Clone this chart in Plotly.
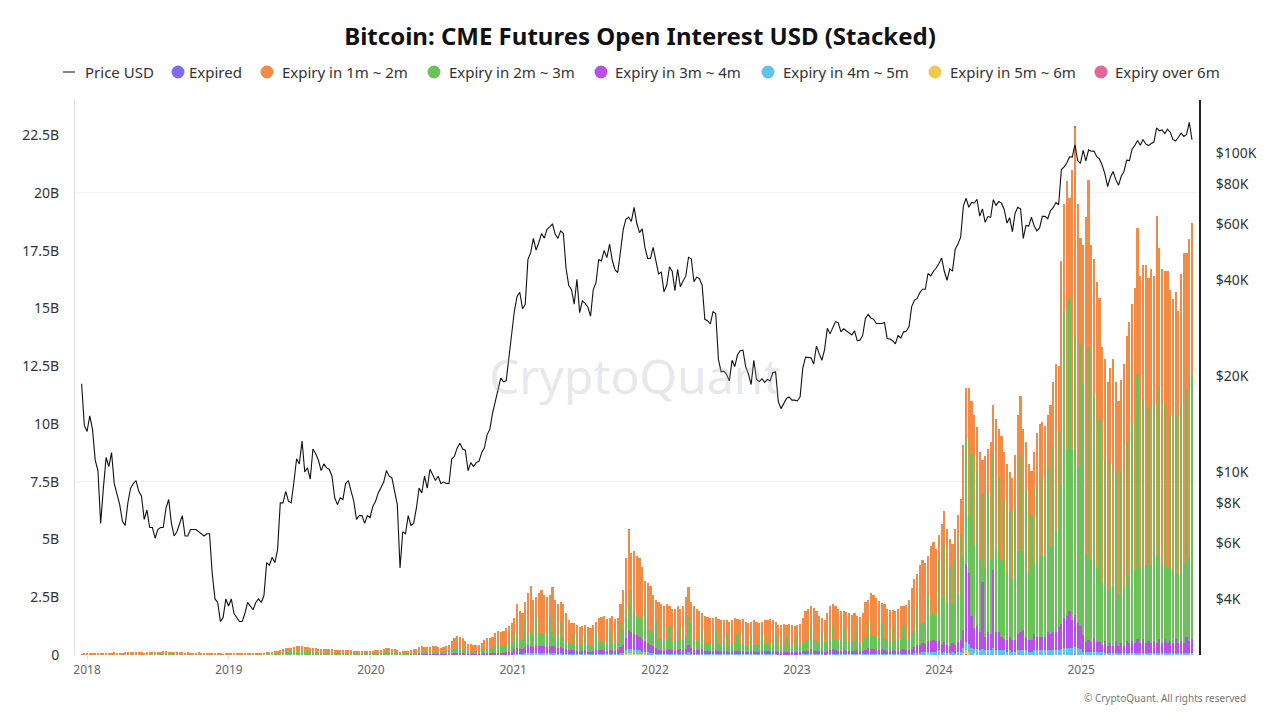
import pandas as pd
import plotly.graph_objects as go

# ---------------- DATA (weekly samples, Mondays from 2017-12-18) ----------------
start_date = "2017-12-18"

# BTC price in thousands USD
price_k = [
    18.9, 14.0,
    # 2018
    13.4, 15.0, 13.6, 10.9, 10.1,
    6.9, 8.9, 11.1, 10.4,
    11.5, 9.2, 8.6, 7.9,
    7.0, 6.8, 8.0, 8.9, 9.2,
    9.4, 8.7, 8.4, 7.1,
    7.6, 6.7, 6.7, 6.2,
    6.6, 6.7, 6.7, 7.7, 8.2,
    6.9, 6.3, 6.5, 6.9,
    7.3, 6.3, 6.3, 6.6,
    6.6, 6.6, 6.5, 6.4, 6.3,
    6.4, 6.4, 4.8, 4.0,
    3.9, 3.4, 3.5, 4.0, 3.8,
    # 2019
    4.0, 3.6, 3.5, 3.4,
    3.4, 3.6, 3.9, 3.8,
    3.7, 3.9, 4.0, 3.9,
    4.1, 5.2, 5.1, 5.4, 5.2,
    5.7, 8.0, 8.0, 8.7,
    8.1, 8.0, 9.3, 11.0,
    10.6, 12.5, 10.0, 10.3, 9.5,
    11.8, 11.4, 10.9, 10.1,
    10.6, 10.3, 10.2, 9.7, 8.3,
    7.9, 8.3, 8.2, 9.2,
    9.4, 8.8, 8.1, 7.1,
    7.3, 7.3, 6.9, 7.3, 7.2,
    # 2020
    7.8, 8.1, 8.6, 8.9,
    9.3, 10.1, 9.7, 9.6,
    8.8, 7.9, 5.0, 6.5, 6.4,
    7.3, 6.8, 6.9, 7.7,
    8.9, 8.6, 9.7, 8.9,
    10.2, 9.8, 9.4, 9.7, 9.2,
    9.3, 9.2, 9.2, 11.0,
    11.2, 11.9, 12.3, 11.8, 11.7,
    10.1, 10.7, 10.4, 10.7,
    10.8, 11.5, 11.9, 13.1,
    13.6, 15.3, 16.7, 18.4, 19.7,
    19.2, 19.3, 22.8, 27.0,
    # 2021
    31.9, 35.5, 36.6, 32.5,
    33.5, 46.4, 48.7, 54.0,
    49.6, 52.4, 55.9, 54.1, 57.6,
    58.7, 60.0, 55.7, 54.0,
    57.0, 56.0, 43.5, 38.4, 37.3,
    33.6, 40.2, 31.6, 34.4,
    33.8, 32.9, 30.8, 37.3,
    39.2, 46.3, 45.9, 49.5, 47.0,
    51.8, 46.1, 43.0, 42.2,
    49.1, 57.5, 62.0, 63.0,
    61.0, 67.5, 60.1, 56.3, 57.8,
    50.5, 46.7, 46.7, 50.6,
    # 2022
    46.4, 41.8, 42.3, 36.7, 38.5,
    44.0, 42.6, 37.0, 43.2,
    38.1, 39.7, 41.1, 47.1,
    46.6, 39.5, 40.8, 40.4,
    38.5, 30.1, 29.8, 29.1, 31.8,
    31.4, 22.5, 20.6, 20.7,
    20.2, 19.3, 22.4, 21.4,
    23.3, 24.0, 24.1, 21.4, 20.3,
    18.8, 22.4, 19.5, 19.2,
    19.6, 19.1, 19.5, 19.3, 20.5,
    20.6, 16.6, 15.8, 16.4,
    17.0, 17.2, 16.8, 16.8,
    # 2023
    16.7, 17.2, 21.2, 22.9, 22.8,
    22.8, 21.8, 24.8, 23.5,
    22.4, 24.2, 28.2, 27.1,
    28.2, 29.6, 29.4, 27.5,
    28.1, 27.7, 27.2, 26.9, 27.7,
    25.8, 25.9, 26.8, 30.3,
    31.2, 30.4, 30.1, 29.2, 29.2,
    29.2, 29.4, 26.2, 26.1,
    25.8, 25.2, 26.8, 26.3,
    27.5, 27.6, 28.5, 33.0, 34.5,
    35.0, 36.5, 37.4, 37.4,
    41.9, 41.2, 42.6, 43.6,
    # 2024
    45.0, 46.9, 42.5, 39.9, 43.3,
    42.7, 49.9, 51.8, 54.5,
    68.3, 72.1, 67.6, 70.0,
    69.7, 71.6, 63.4, 66.8, 60.6,
    63.2, 62.9, 71.4, 68.5,
    70.5, 69.6, 66.5, 60.3,
    62.7, 56.7, 64.8, 67.6, 66.8,
    54.0, 59.3, 59.0, 62.9,
    59.1, 57.0, 58.2, 63.3, 63.3,
    62.2, 66.0, 67.4, 69.9,
    68.8, 88.7, 90.5, 93.0,
    97.3, 97.1, 106.1, 94.7, 92.8,
    # 2025
    102.0, 94.5, 102.3, 101.3,
    101.4, 97.4, 95.8, 91.5,
    86.0, 78.5, 84.0, 87.5, 82.5,
    79.2, 84.5, 87.5, 95.0,
    94.7, 102.8, 105.6, 109.4,
    105.7, 110.2, 106.8, 105.5, 107.1,
    108.2, 119.8, 117.4, 118.1,
    115.0, 118.7, 116.2, 110.1,
    109.2, 112.0, 115.4, 112.7, 114.4,
    124.7, 110.0,
]

# Open interest in billions USD
oi_1m_2m = [
    0.02, 0.04,
    # 2018
    0.05, 0.06, 0.05, 0.06, 0.05,
    0.05, 0.06, 0.06, 0.05,
    0.06, 0.07, 0.06, 0.05,
    0.06, 0.07, 0.08, 0.08, 0.07,
    0.08, 0.07, 0.07, 0.06,
    0.07, 0.08, 0.09, 0.08,
    0.08, 0.09, 0.10, 0.11, 0.10,
    0.09, 0.08, 0.08, 0.07,
    0.07, 0.06, 0.07, 0.06,
    0.06, 0.06, 0.07, 0.06, 0.05,
    0.06, 0.06, 0.05, 0.04,
    0.04, 0.04, 0.03, 0.04, 0.04,
    # 2019
    0.04, 0.04, 0.04, 0.03,
    0.04, 0.04, 0.05, 0.05,
    0.05, 0.05, 0.06, 0.06,
    0.06, 0.08, 0.09, 0.09, 0.10,
    0.11, 0.15, 0.17, 0.19,
    0.18, 0.20, 0.22, 0.26,
    0.25, 0.24, 0.22, 0.21, 0.20,
    0.20, 0.19, 0.18, 0.17,
    0.17, 0.18, 0.17, 0.16, 0.14,
    0.13, 0.14, 0.13, 0.14,
    0.14, 0.13, 0.12, 0.11,
    0.11, 0.12, 0.11, 0.12, 0.11,
    # 2020
    0.11, 0.12, 0.14, 0.13,
    0.16, 0.18, 0.19, 0.17,
    0.15, 0.12, 0.09, 0.10, 0.11,
    0.12, 0.13, 0.15, 0.17,
    0.21, 0.24, 0.22, 0.20,
    0.22, 0.25, 0.24, 0.22, 0.19,
    0.22, 0.25, 0.28, 0.38,
    0.48, 0.52, 0.50, 0.45, 0.36,
    0.29, 0.28, 0.26, 0.27,
    0.27, 0.33, 0.41, 0.47,
    0.46, 0.50, 0.60, 0.66, 0.62,
    0.66, 0.72, 0.78, 0.88,
    # 2021
    0.6, 1.45, 1.25, 1.15,
    0.8, 1.75, 2.0, 1.55,
    0.9, 1.75, 1.85, 1.7, 1.65,
    0.95, 1.95, 1.6, 1.45,
    0.85, 1.45, 1.2, 1.0, 0.9,
    0.5, 0.85, 0.8, 0.82,
    0.45, 0.8, 0.76, 0.86,
    0.5, 1.05, 1.1, 1.12, 1.02,
    0.55, 1.12, 1.02, 1.05,
    0.8, 1.75, 2.6, 3.3,
    1.6, 2.7, 2.6, 2.55, 2.3,
    1.2, 1.95, 1.9, 1.65,
    # 2022
    0.95, 1.6, 1.52, 1.45, 1.52,
    0.85, 1.38, 1.38, 1.45,
    0.8, 1.45, 1.7, 1.3,
    0.9, 1.45, 1.38, 1.3,
    0.7, 1.17, 1.13, 1.1, 1.1,
    0.65, 1.07, 1.03, 1.03,
    0.6, 1.0, 1.03, 1.1,
    0.62, 1.03, 1.07, 1.0, 0.96,
    0.58, 1.03, 1.0, 0.96,
    0.58, 1.03, 1.03, 1.07, 1.03,
    0.58, 0.9, 0.9, 0.93,
    0.52, 0.93, 0.9, 0.86,
    # 2023
    0.52, 0.93, 1.1, 1.3, 1.35,
    0.85, 1.4, 1.3, 1.16,
    0.64, 1.02, 1.22, 1.43,
    0.88, 1.43, 1.36, 1.3,
    0.76, 1.26, 1.22, 1.19, 1.22,
    0.68, 1.12, 1.22, 1.56,
    0.96, 1.83, 1.77, 1.67, 1.6,
    0.9, 1.5, 1.36, 1.33,
    0.78, 1.3, 1.36, 1.43,
    0.84, 1.46, 1.63, 1.97, 2.2,
    1.4, 2.55, 2.65, 2.6,
    1.7, 3.0, 3.1, 2.9,
    # 2024
    1.1, 3.2, 1.5, 3.1, 1.2,
    2.6, 1.3, 3.4, 1.5,
    4.8, 2.2, 5.5, 2.3,
    5.6, 1.9, 4.7, 1.5, 4.8,
    1.9, 5.1, 2.1, 5.6,
    2.1, 5.4, 2.1, 4.7,
    1.7, 4.3, 2.2, 5.9, 2.6,
    5.3, 2.1, 4.7, 1.9,
    4.8, 2.3, 5.7, 2.4, 5.6,
    2.3, 6.1, 2.8, 7.2,
    2.8, 9.7, 4.6, 11.6,
    4.4, 12.1, 9.1, 11.3, 4.6,
    # 2025
    6.0, 14.6, 7.2, 13.6,
    5.9, 12.4, 5.3, 10.2,
    4.3, 9.0, 4.1, 9.8, 3.9,
    8.4, 4.0, 9.6, 4.6,
    11.0, 5.2, 12.2, 6.4,
    12.6, 5.8, 13.0, 5.6, 12.8,
    5.6, 14.7, 6.0, 12.8,
    5.7, 12.8, 5.4, 11.8,
    5.3, 11.4, 5.7, 13.4, 5.9,
    13.8, 6.5,
]

oi_2m_3m = [
    0.01, 0.02,
    # 2018
    0.02, 0.03, 0.02, 0.03, 0.02,
    0.02, 0.03, 0.03, 0.02,
    0.03, 0.03, 0.02, 0.02,
    0.03, 0.03, 0.04, 0.03, 0.03,
    0.04, 0.03, 0.03, 0.03,
    0.03, 0.04, 0.04, 0.03,
    0.04, 0.04, 0.05, 0.05, 0.04,
    0.04, 0.04, 0.03, 0.03,
    0.03, 0.03, 0.03, 0.03,
    0.03, 0.03, 0.03, 0.02, 0.02,
    0.03, 0.02, 0.02, 0.02,
    0.02, 0.02, 0.01, 0.02, 0.02,
    # 2019
    0.02, 0.02, 0.02, 0.02,
    0.02, 0.02, 0.02, 0.02,
    0.02, 0.03, 0.03, 0.03,
    0.03, 0.04, 0.04, 0.05, 0.05,
    0.05, 0.06, 0.08, 0.09,
    0.09, 0.10, 0.11, 0.12,
    0.12, 0.11, 0.10, 0.10, 0.09,
    0.09, 0.09, 0.08, 0.08,
    0.08, 0.08, 0.08, 0.07, 0.07,
    0.06, 0.06, 0.06, 0.07,
    0.07, 0.06, 0.06, 0.05,
    0.05, 0.05, 0.05, 0.06, 0.05,
    # 2020
    0.05, 0.06, 0.06, 0.06,
    0.07, 0.08, 0.08, 0.07,
    0.07, 0.06, 0.05, 0.05, 0.05,
    0.05, 0.06, 0.07, 0.08,
    0.09, 0.11, 0.11, 0.10,
    0.11, 0.12, 0.11, 0.10, 0.10,
    0.10, 0.11, 0.13, 0.17,
    0.20, 0.22, 0.22, 0.20, 0.18,
    0.14, 0.13, 0.12, 0.13,
    0.12, 0.14, 0.17, 0.20,
    0.20, 0.22, 0.26, 0.29, 0.28,
    0.29, 0.32, 0.35, 0.38,
    # 2021
    0.75, 0.45, 0.4, 0.4,
    1.15, 0.55, 0.6, 0.5,
    1.2, 0.55, 0.55, 0.5, 0.5,
    1.25, 0.6, 0.45, 0.45,
    1.1, 0.45, 0.36, 0.3, 0.3,
    0.7, 0.28, 0.25, 0.27,
    0.65, 0.25, 0.24, 0.28,
    0.75, 0.35, 0.35, 0.37, 0.34,
    0.82, 0.37, 0.34, 0.35,
    1.05, 0.6, 0.85, 1.05,
    1.8, 0.9, 0.85, 0.85, 0.8,
    1.4, 0.65, 0.65, 0.58,
    # 2022
    1.15, 0.47, 0.45, 0.44, 0.46,
    1.0, 0.42, 0.42, 0.44,
    0.95, 0.44, 0.52, 1.2,
    1.1, 0.44, 0.42, 0.4,
    0.86, 0.36, 0.35, 0.34, 0.34,
    0.8, 0.32, 0.31, 0.31,
    0.72, 0.3, 0.31, 0.34,
    0.74, 0.31, 0.32, 0.3, 0.29,
    0.7, 0.31, 0.3, 0.29,
    0.7, 0.31, 0.31, 0.32, 0.31,
    0.7, 0.27, 0.27, 0.28,
    0.63, 0.28, 0.27, 0.26,
    # 2023
    0.63, 0.28, 0.34, 0.42, 0.46,
    1.0, 0.46, 0.42, 0.38,
    0.77, 0.34, 0.41, 0.47,
    1.05, 0.47, 0.45, 0.42,
    0.91, 0.41, 0.41, 0.39, 0.41,
    0.82, 0.37, 0.41, 0.52,
    1.15, 0.61, 0.58, 0.55, 0.53,
    1.08, 0.49, 0.45, 0.44,
    0.94, 0.42, 0.45, 0.47,
    1.01, 0.48, 0.54, 0.65, 0.75,
    1.65, 0.9, 0.95, 0.92,
    2.0, 1.1, 1.15, 1.1,
    # 2024
    3.5, 2.0, 4.2, 1.9, 3.4,
    1.7, 3.7, 2.1, 4.6,
    3.2, 5.4, 2.5, 7.0,
    3.6, 6.7, 3.1, 3.8, 3.0,
    6.0, 3.2, 5.0, 3.6,
    6.7, 3.3, 6.0, 2.9,
    5.4, 2.7, 5.8, 3.6, 7.6,
    3.4, 6.3, 2.9, 5.4,
    3.1, 6.5, 3.5, 6.9, 3.5,
    7.1, 3.8, 8.0, 4.4,
    8.5, 6.0, 13.3, 7.2,
    13.5, 7.4, 12.0, 6.8, 12.2,
    # 2025
    10.9, 3.8, 12.7, 3.6,
    10.5, 3.2, 9.6, 2.7,
    7.9, 2.4, 7.8, 2.6, 7.3,
    2.2, 7.4, 2.6, 8.6,
    2.9, 9.4, 3.2, 11.4,
    3.3, 10.4, 3.4, 10.1, 3.4,
    10.2, 3.8, 10.9, 3.4,
    10.2, 3.3, 9.8, 3.1,
    9.7, 3.0, 10.2, 3.5, 10.7,
    3.6, 11.5,
]

oi_3m_4m = [
    0.0, 0.0,
    # 2018
    0.01, 0.01, 0.01, 0.01, 0.01,
    0.01, 0.01, 0.01, 0.01,
    0.01, 0.01, 0.01, 0.01,
    0.01, 0.01, 0.01, 0.01, 0.01,
    0.01, 0.01, 0.01, 0.01,
    0.01, 0.01, 0.01, 0.01,
    0.01, 0.01, 0.02, 0.02, 0.01,
    0.01, 0.01, 0.01, 0.01,
    0.01, 0.01, 0.01, 0.01,
    0.01, 0.01, 0.01, 0.01, 0.01,
    0.01, 0.01, 0.01, 0.01,
    0.01, 0.01, 0.0, 0.01, 0.01,
    # 2019
    0.01, 0.01, 0.01, 0.01,
    0.01, 0.01, 0.01, 0.01,
    0.01, 0.01, 0.01, 0.01,
    0.01, 0.01, 0.01, 0.01, 0.01,
    0.01, 0.01, 0.02, 0.02,
    0.02, 0.02, 0.02, 0.02,
    0.02, 0.02, 0.02, 0.02, 0.02,
    0.02, 0.02, 0.02, 0.02,
    0.02, 0.02, 0.01, 0.01, 0.01,
    0.01, 0.01, 0.01, 0.01,
    0.01, 0.01, 0.01, 0.01,
    0.01, 0.01, 0.01, 0.01, 0.01,
    # 2020
    0.02, 0.02, 0.02, 0.02,
    0.02, 0.03, 0.03, 0.03,
    0.02, 0.02, 0.01, 0.01, 0.02,
    0.02, 0.02, 0.02, 0.02,
    0.03, 0.03, 0.03, 0.03,
    0.03, 0.03, 0.03, 0.03, 0.03,
    0.03, 0.04, 0.04, 0.05,
    0.06, 0.07, 0.07, 0.06, 0.05,
    0.04, 0.04, 0.04, 0.04,
    0.04, 0.05, 0.06, 0.07,
    0.07, 0.07, 0.08, 0.09, 0.09,
    0.09, 0.10, 0.11, 0.12,
    # 2021
    0.2, 0.25, 0.2, 0.2,
    0.28, 0.32, 0.32, 0.28,
    0.32, 0.32, 0.32, 0.32, 0.28,
    0.32, 0.32, 0.28, 0.24,
    0.28, 0.24, 0.19, 0.16, 0.16,
    0.16, 0.14, 0.12, 0.13,
    0.16, 0.12, 0.12, 0.13,
    0.16, 0.16, 0.16, 0.17, 0.15,
    0.19, 0.17, 0.15, 0.16,
    0.28, 0.35, 0.55, 0.8,
    0.75, 0.7, 0.65, 0.6, 0.55,
    0.45, 0.38, 0.35, 0.3,
    # 2022
    0.24, 0.18, 0.18, 0.17, 0.18,
    0.2, 0.16, 0.16, 0.17,
    0.2, 0.17, 0.22, 0.32,
    0.24, 0.17, 0.16, 0.16,
    0.19, 0.14, 0.14, 0.13, 0.13,
    0.16, 0.13, 0.13, 0.13,
    0.15, 0.12, 0.13, 0.13,
    0.16, 0.13, 0.13, 0.12, 0.12,
    0.14, 0.13, 0.12, 0.12,
    0.14, 0.13, 0.13, 0.13, 0.13,
    0.14, 0.11, 0.11, 0.12,
    0.13, 0.12, 0.11, 0.11,
    # 2023
    0.13, 0.12, 0.13, 0.15, 0.16,
    0.2, 0.16, 0.15, 0.13,
    0.16, 0.12, 0.14, 0.17,
    0.22, 0.17, 0.16, 0.15,
    0.19, 0.15, 0.14, 0.14, 0.14,
    0.17, 0.13, 0.14, 0.18,
    0.24, 0.21, 0.21, 0.19, 0.18,
    0.22, 0.17, 0.16, 0.15,
    0.19, 0.15, 0.16, 0.17,
    0.21, 0.17, 0.19, 0.23, 0.28,
    0.35, 0.35, 0.38, 0.37,
    0.45, 0.45, 0.5, 0.45,
    # 2024
    0.4, 0.35, 0.4, 0.35, 0.3,
    0.35, 0.35, 0.4, 0.5,
    0.8, 3.4, 3.1, 1.4,
    0.9, 1.0, 0.8, 2.9, 0.6,
    0.8, 0.7, 3.4, 0.8,
    0.8, 0.6, 0.5, 0.5,
    0.6, 0.5, 0.5, 0.7, 0.8,
    0.9, 0.6, 0.5, 0.5,
    0.7, 0.6, 0.6, 0.6, 0.6,
    0.8, 0.7, 0.8, 0.8,
    1.0, 1.1, 1.3, 1.4,
    1.6, 1.2, 1.4, 1.1, 1.0,
    # 2025
    0.7, 0.4, 0.5, 0.4,
    0.6, 0.4, 0.4, 0.3,
    0.5, 0.3, 0.4, 0.3, 0.5,
    0.3, 0.4, 0.3, 0.5,
    0.4, 0.5, 0.4, 0.6,
    0.4, 0.6, 0.4, 0.5, 0.4,
    0.5, 0.4, 0.6, 0.4,
    0.6, 0.4, 0.5, 0.4,
    0.6, 0.4, 0.5, 0.4, 0.7,
    0.5, 0.6,
]

oi_4m_5m = [
    0.0, 0.0,
    # 2018
    0, 0, 0, 0, 0,
    0, 0, 0, 0,
    0, 0, 0, 0,
    0, 0, 0, 0, 0,
    0, 0, 0, 0,
    0, 0, 0, 0,
    0, 0, 0, 0, 0,
    0, 0, 0, 0,
    0, 0, 0, 0,
    0, 0, 0, 0, 0,
    0, 0, 0, 0,
    0, 0, 0, 0, 0,
    # 2019
    0, 0, 0, 0,
    0, 0, 0, 0,
    0, 0, 0, 0,
    0, 0, 0, 0, 0,
    0, 0, 0, 0,
    0, 0, 0, 0,
    0, 0, 0, 0, 0,
    0, 0, 0, 0,
    0, 0, 0, 0, 0,
    0, 0, 0, 0,
    0, 0, 0, 0,
    0, 0, 0, 0, 0,
    # 2020
    0, 0, 0, 0,
    0, 0, 0, 0,
    0, 0, 0, 0, 0,
    0, 0, 0, 0,
    0, 0, 0, 0,
    0, 0, 0, 0, 0,
    0, 0, 0, 0,
    0.01, 0.01, 0.01, 0.01, 0.01,
    0.01, 0.01, 0.01, 0.01,
    0.01, 0.01, 0.01, 0.01,
    0.01, 0.01, 0.01, 0.01, 0.01,
    0.01, 0.01, 0.01, 0.02,
    # 2021
    0.05, 0.05, 0.05, 0.05,
    0.07, 0.08, 0.08, 0.07,
    0.08, 0.08, 0.08, 0.08, 0.07,
    0.08, 0.08, 0.07, 0.06,
    0.07, 0.06, 0.05, 0.04, 0.04,
    0.04, 0.03, 0.03, 0.03,
    0.04, 0.03, 0.03, 0.03,
    0.04, 0.04, 0.04, 0.04, 0.04,
    0.04, 0.04, 0.04, 0.04,
    0.06, 0.08, 0.14, 0.17,
    0.17, 0.14, 0.14, 0.14, 0.1,
    0.1, 0.08, 0.07, 0.05,
    # 2022
    0.06, 0.05, 0.05, 0.04, 0.04,
    0.05, 0.04, 0.04, 0.04,
    0.05, 0.04, 0.06, 0.08,
    0.06, 0.04, 0.04, 0.04,
    0.05, 0.03, 0.03, 0.03, 0.03,
    0.04, 0.03, 0.03, 0.03,
    0.03, 0.03, 0.03, 0.03,
    0.03, 0.03, 0.03, 0.03, 0.03,
    0.03, 0.03, 0.03, 0.03,
    0.03, 0.03, 0.03, 0.03, 0.03,
    0.03, 0.02, 0.02, 0.02,
    0.02, 0.02, 0.02, 0.02,
    # 2023
    0.02, 0.02, 0.03, 0.03, 0.03,
    0.05, 0.03, 0.03, 0.03,
    0.03, 0.02, 0.03, 0.03,
    0.05, 0.03, 0.03, 0.03,
    0.04, 0.03, 0.03, 0.03, 0.03,
    0.03, 0.03, 0.03, 0.04,
    0.05, 0.05, 0.04, 0.04, 0.04,
    0.05, 0.04, 0.03, 0.03,
    0.04, 0.03, 0.03, 0.03,
    0.04, 0.04, 0.04, 0.05, 0.07,
    0.1, 0.1, 0.12, 0.11,
    0.15, 0.15, 0.15, 0.15,
    # 2024
    0.2, 0.1, 0.15, 0.1, 0.1,
    0.15, 0.1, 0.15, 0.15,
    0.2, 0.35, 0.35, 0.3,
    0.2, 0.25, 0.2, 0.25, 0.2,
    0.2, 0.2, 0.3, 0.2,
    0.2, 0.2, 0.2, 0.15,
    0.2, 0.15, 0.15, 0.2, 0.2,
    0.2, 0.2, 0.15, 0.15,
    0.2, 0.2, 0.2, 0.2, 0.2,
    0.2, 0.2, 0.2, 0.2,
    0.2, 0.25, 0.3, 0.3,
    0.3, 0.3, 0.3, 0.3, 0.25,
    # 2025
    0.15, 0.15, 0.15, 0.15,
    0.15, 0.15, 0.15, 0.15,
    0.1, 0.1, 0.1, 0.1, 0.1,
    0.1, 0.1, 0.1, 0.1,
    0.1, 0.1, 0.1, 0.1,
    0.1, 0.1, 0.1, 0.1, 0.1,
    0.1, 0.1, 0.1, 0.1,
    0.1, 0.1, 0.1, 0.1,
    0.1, 0.1, 0.1, 0.1, 0.1,
    0.1, 0.1,
]

# small series, given only on the weeks where they are non-zero
oi_5m_6m_points = {
    "2021-10-04": 0.01, "2021-10-11": 0.02, "2021-10-18": 0.06, "2021-10-25": 0.08,
    "2021-11-01": 0.08, "2021-11-08": 0.06, "2021-11-15": 0.06, "2021-11-22": 0.06,
    "2021-11-29": 0.05, "2021-12-06": 0.05, "2021-12-13": 0.04, "2021-12-20": 0.03,
    "2021-12-27": 0.02, "2022-03-28": 0.03, "2024-03-04": 0.10, "2024-03-11": 0.15,
    "2024-03-18": 0.12, "2024-04-01": 0.08,
}
oi_over_6m_points = {"2021-10-25": 0.02, "2024-03-11": 0.05, "2024-12-16": 0.05}
oi_expired_points = {"2021-10-25": 0.02, "2024-12-16": 0.03}

y_left_ticks = [0, 2.5, 5, 7.5, 10, 12.5, 15, 17.5, 20, 22.5]
y_left_labels = ["0", "2.5B", "5B", "7.5B", "10B", "12.5B", "15B", "17.5B", "20B", "22.5B"]
y_right_ticks = [4000, 6000, 8000, 10000, 20000, 40000, 60000, 80000, 100000]
y_right_labels = ["$4K", "$6K", "$8K", "$10K", "$20K", "$40K", "$60K", "$80K", "$100K"]

legend_names = ["Price USD", "Expired", "Expiry in 1m ~ 2m", "Expiry in 2m ~ 3m",
                "Expiry in 3m ~ 4m", "Expiry in 4m ~ 5m", "Expiry in 5m ~ 6m", "Expiry over 6m"]

# ---------------- BUILD ----------------
n = len(price_k)
for k, v in dict(o=oi_1m_2m, g=oi_2m_3m, p=oi_3m_4m, c=oi_4m_5m).items():
    if len(v) != n:
        raise ValueError(f"length mismatch {k}: {len(v)} vs {n}")

dates = pd.date_range(start_date, periods=n, freq="7D")
keys = [d.strftime("%Y-%m-%d") for d in dates]
oi_5m_6m = [oi_5m_6m_points.get(k, 0) for k in keys]
oi_over_6m = [oi_over_6m_points.get(k, 0) for k in keys]
oi_expired = [oi_expired_points.get(k, 0) for k in keys]
price_usd = [p * 1000 for p in price_k]

FONT = "Noto Sans, Open Sans, Arial, sans-serif"
C_EXP = "#7E6BF2"
C_O = "#F28B45"
C_G = "#6CC15A"
C_P = "#B650E6"
C_C = "#62C3E8"
C_Y = "#EECB4E"
C_K = "#E2669A"

# the page body adds an 8px offset; size the figure so it fills the window exactly
PAGE_OFF = 8
FIG_W, FIG_H = 1280 - PAGE_OFF, 720 - PAGE_OFF
# plot area in screen pixels
L, R, T, B = 75, 1199, 100, 655
W, H = R - L, B - T


def px_x(px):
    return (px - L) / W


def px_y(py):
    return (B - py) / H


fig = go.Figure()

bar_series = [
    ("Expiry over 6m", oi_over_6m, C_K),
    ("Expiry in 5m ~ 6m", oi_5m_6m, C_Y),
    ("Expiry in 4m ~ 5m", oi_4m_5m, C_C),
    ("Expiry in 3m ~ 4m", oi_3m_4m, C_P),
    ("Expiry in 2m ~ 3m", oi_2m_3m, C_G),
    ("Expiry in 1m ~ 2m", oi_1m_2m, C_O),
    ("Expired", oi_expired, C_EXP),
]
for name, vals, col in bar_series:
    fig.add_trace(go.Bar(x=dates, y=vals, name=name, marker=dict(color=col, line=dict(width=0)),
                         showlegend=False, yaxis="y"))

fig.add_trace(go.Scatter(x=dates, y=price_usd, name="Price USD", mode="lines",
                         line=dict(color="#111111", width=1.1), yaxis="y2", showlegend=False))

# ---- legend drawn as text + symbols, laid out like the reference ----
legend_colors = [None, C_EXP, C_O, C_G, C_P, C_C, C_Y, C_K]
legend_sym_x = [69, 178, 267, 434, 601, 768, 935, 1101]
legend_txt_x = [83, 187, 280, 447, 613, 781, 948, 1113]
LEG_Y = 72
shapes = [
    dict(type="line", xref="paper", x0=0, x1=1, yref="y", y0=20, y1=20,
         line=dict(color="#efefef", width=1), layer="below"),
    dict(type="line", xref="paper", x0=0, x1=1, yref="y", y0=7.5, y1=7.5,
         line=dict(color="#efefef", width=1), layer="below"),
]
annotations = []
for name, col, sx, tx in zip(legend_names, legend_colors, legend_sym_x, legend_txt_x):
    if col is None:
        shapes.append(dict(type="line", xref="paper", yref="paper",
                           x0=px_x(sx - 6), x1=px_x(sx + 6), y0=px_y(LEG_Y), y1=px_y(LEG_Y),
                           line=dict(color="#333333", width=1.2)))
    else:
        shapes.append(dict(type="circle", xref="paper", yref="paper",
                           xsizemode="pixel", ysizemode="pixel",
                           xanchor=px_x(sx), yanchor=px_y(LEG_Y),
                           x0=-6.5, x1=6.5, y0=-6.5, y1=6.5,
                           fillcolor=col, line=dict(width=0)))
    annotations.append(dict(text=name, xref="paper", yref="paper", x=px_x(tx), y=px_y(LEG_Y),
                            xanchor="left", yanchor="middle", showarrow=False,
                            font=dict(size=15, color="#333333", family=FONT)))

annotations += [
    dict(text="CryptoQuant", xref="paper", yref="paper", x=px_x(635), y=px_y(375),
         showarrow=False, font=dict(size=48, color="rgba(175,175,190,0.30)", family=FONT)),
    dict(text="© CryptoQuant. All rights reserved", xref="paper", yref="paper",
         x=px_x(1248), y=px_y(698), xanchor="right", yanchor="middle", showarrow=False,
         font=dict(size=10, color="#777777", family=FONT)),
]

fig.update_layout(
    width=FIG_W, height=FIG_H,
    paper_bgcolor="white", plot_bgcolor="white",
    font=dict(family=FONT, color="#333333", size=14),
    margin=dict(l=L - PAGE_OFF, r=1280 - R, t=T - PAGE_OFF, b=720 - B, autoexpand=False),
    showlegend=False,
    barmode="stack", bargap=0.2,
    title=dict(text="<b>Bitcoin: CME Futures Open Interest USD (Stacked)</b>",
               x=(640 - PAGE_OFF) / FIG_W, xref="container", xanchor="center",
               y=1 - (37 - PAGE_OFF) / FIG_H, yref="container", yanchor="middle",
               font=dict(size=24, color="#111111", family=FONT)),
    xaxis=dict(type="date", range=["2017-12-01", "2025-10-31"],
               tick0="2018-01-01", dtick="M12", tickformat="%Y",
               showgrid=False, zeroline=False, showline=False, automargin=False,
               ticks="outside", ticklen=4, tickcolor="#e0e0e0",
               tickfont=dict(size=12, color="#666666")),
    yaxis=dict(range=[0, 24.02], tickvals=y_left_ticks, ticktext=y_left_labels,
               showgrid=False, zeroline=False, showline=True, linecolor="#dddddd",
               linewidth=1, ticks="", ticklabelstandoff=12, automargin=False,
               tickfont=dict(size=14, color="#333333")),
    yaxis2=dict(type="log", overlaying="y", side="right",
                range=[3.4263, 5.1661], tickvals=y_right_ticks, ticktext=y_right_labels,
                showgrid=False, zeroline=False, showline=True, linecolor="#222222",
                linewidth=2, ticks="", ticklabelstandoff=12, automargin=False,
                tickfont=dict(size=14, color="#333333")),
    shapes=shapes,
    annotations=annotations,
)

fig.write_html("out.html")
